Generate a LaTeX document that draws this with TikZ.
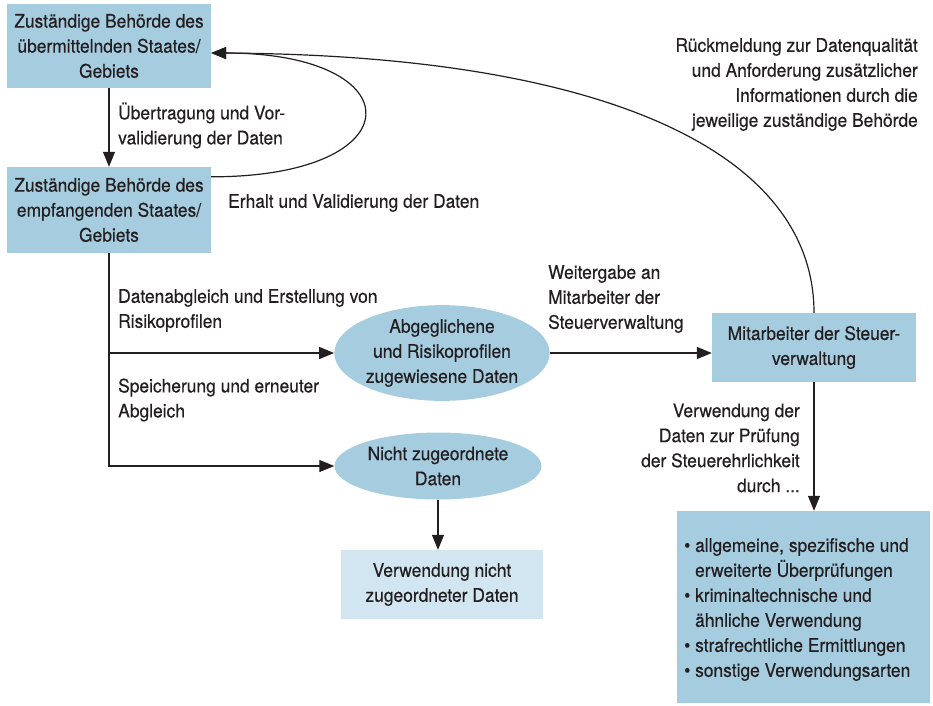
\documentclass[tikz,border=0pt]{standalone}
\usepackage{fontspec}
\setmainfont{TeX Gyre Heros}[FakeStretch=0.93,FakeBold=0.4]
\usetikzlibrary{arrows.meta,shapes.geometric,calc}
\definecolor{boxblue}{HTML}{A6CCE0}
\definecolor{lightblue}{HTML}{D2E6F1}
\definecolor{ink}{HTML}{231F20}
\begin{document}
\begin{tikzpicture}[x=1pt,y=-1pt,
  every node/.style={font=\fontsize{18.7}{25}\selectfont, text=ink, inner sep=0pt},
  bluebox/.style={fill=boxblue, draw=none, align=center},
  lightbox/.style={fill=lightblue, draw=none, align=center},
  blueell/.style={ellipse, fill=boxblue, draw=none, align=center},
  lbl/.style={align=left, anchor=west},
  rlbl/.style={align=right, anchor=east},
  arr/.style={draw=ink, line width=1.2pt, -{Triangle[length=15pt,width=12pt]}},
  ln/.style={draw=ink, line width=1.2pt}]
\useasboundingbox (0,0) rectangle (933,705);

\node[bluebox, minimum width=204pt, minimum height=84pt] (A) at (109,46)
  {Zuständige Behörde des\\übermittelnden Staates/\\Gebiets};
\node[bluebox, minimum width=204pt, minimum height=86pt] (B) at (109,210)
  {Zuständige Behörde des\\empfangenden Staates/\\Gebiets};
\node[blueell, minimum width=214pt, minimum height=94pt] (E1) at (442,353)
  {Abgeglichene\\und Risikoprofilen\\zugewiesene Daten};
\node[blueell, minimum width=207pt, minimum height=67pt] (E2) at (438,466)
  {Nicht zugeordnete\\Daten};
\node[lightbox, minimum width=202pt, minimum height=69pt] (C) at (442,584.5)
  {Verwendung nicht\\zugeordneter Daten};
\node[bluebox, minimum width=204pt, minimum height=69pt] (M) at (814,347.5)
  {Mitarbeiter der Steuer-\\verwaltung};
\node[bluebox, minimum width=253pt, minimum height=192pt] (L) at (803.5,607) {};
\node[align=left, anchor=west] (Ltext) at (684,609.5)
  {\textbullet\ allgemeine, spezifische und\\
   \phantom{\textbullet\ }erweiterte Überprüfungen\\
   \textbullet\ kriminaltechnische und\\
   \phantom{\textbullet\ }ähnliche Verwendung\\
   \textbullet\ strafrechtliche Ermittlungen\\
   \textbullet\ sonstige Verwendungsarten};

% labels
\node[lbl] (l1) at (118,125.5) {Übertragung und Vor-\\validierung der Daten};
\node[lbl] (l2) at (228,203) {Erhalt und Validierung der Daten};
\node[lbl] (l3) at (118,310.5) {Datenabgleich und Erstellung von\\Risikoprofilen};
\node[lbl] (l4) at (118,400) {Speicherung und erneuter\\Abgleich};
\node[lbl] (l5) at (548,299) {Weitergabe an\\Mitarbeiter der\\Steuerverwaltung};
\node[rlbl] (l6) at (918,84.5) {Rückmeldung zur Datenqualität\\und Anforderung zusätzlicher\\Informationen durch die\\jeweilige zuständige Behörde};
\node[rlbl] (l7) at (800,448) {Verwendung der\\Daten zur Prüfung\\der Steuerehrlichkeit\\durch ...};

% connectors
\coordinate (Atip) at ([yshift=-7pt]A.east);
\coordinate (Bout) at ([yshift=-10pt]B.north east);
\coordinate (j1) at (B.south |- E1.west);
\draw[arr] (A.south) -- (B.south |- B.north);
\draw[arr] (Bout) .. controls (415,177) and (415,53) .. (Atip);
\draw[arr] (M.north) .. controls (814,150) and (600,55) .. (Atip);
\draw[arr] (B.south) |- (E2.west);
\draw[arr] (j1) -- (E1.west);
\draw[arr] (E1.east) -- (E1.east -| M.west);
\draw[arr] (E2.south) -- (E2.south |- C.north);
\draw[arr] (M.south) -- (M.south |- L.north);
\end{tikzpicture}
\end{document}
